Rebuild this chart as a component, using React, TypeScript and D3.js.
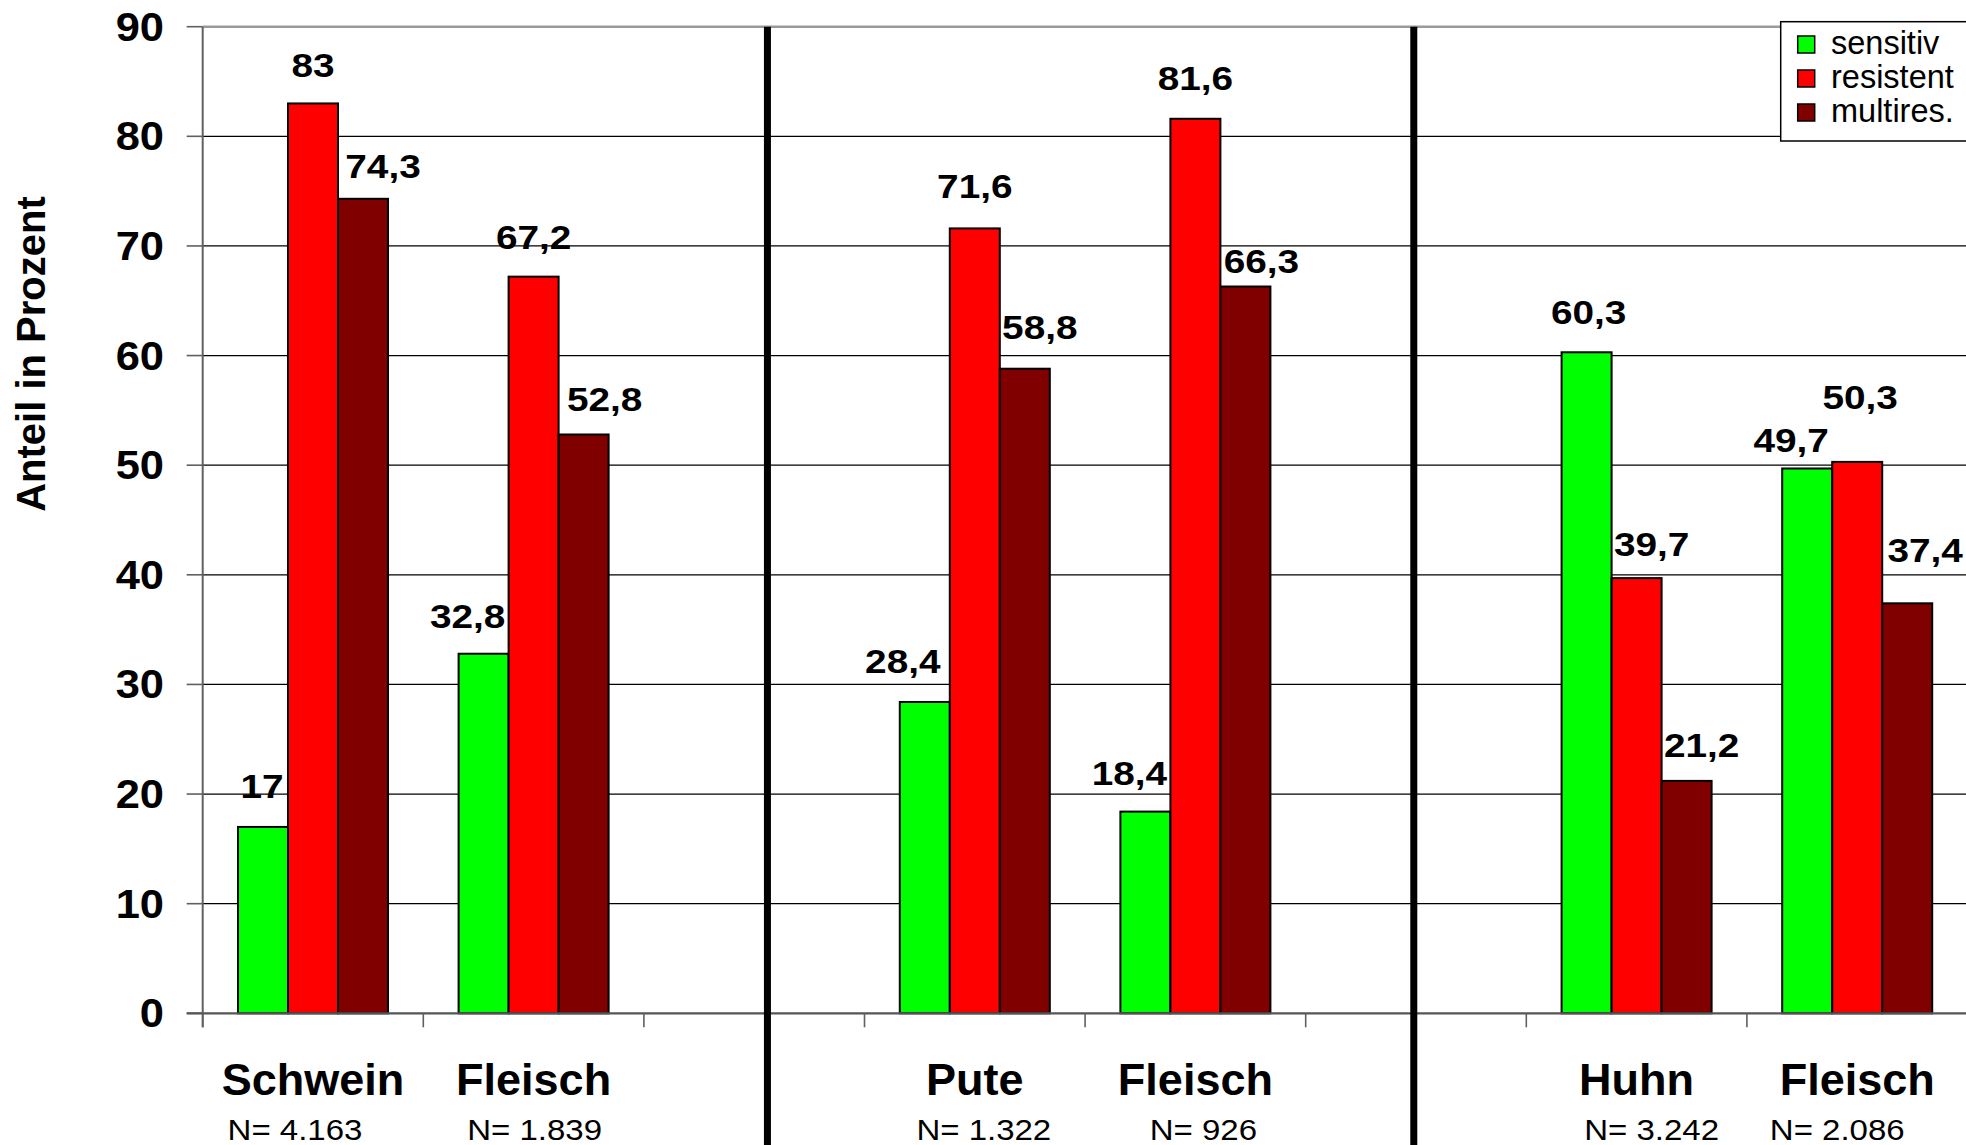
import React from "react";
import * as d3 from "d3";

// Category slots along the x axis (empty slots separate the three animal groups)
const xCategories = ["Schwein", "Fleisch", "", "Pute", "Fleisch", "", "Huhn", "Fleisch", ""];
const sampleSizes = ["N= 4.163", "N= 1.839", "", "N= 1.322", "N= 926", "", "N= 3.242", "N= 2.086", ""];

const seriesNames = ["sensitiv", "resistent", "multires."];
const sensitiv = [17, 32.8, null, 28.4, 18.4, null, 60.3, 49.7, null];
const resistent = [83, 67.2, null, 71.6, 81.6, null, 39.7, 50.3, null];
const multires = [74.3, 52.8, null, 58.8, 66.3, null, 21.2, 37.4, null];
const seriesValues = [sensitiv, resistent, multires];

const yTicks = [0, 10, 20, 30, 40, 50, 60, 70, 80, 90];

// Styling
const W = 1966;
const H = 1145;
const colors = ["#00ff00", "#ff0000", "#800000"];
const plotLeft = 202.7;
const plotTop = 26.7;
const plotBottom = 1013.3;
const slotStep = 220.6;
const FONT = "Liberation Sans, Arial, Helvetica, sans-serif";

// Hand-placed value label offsets: [dx from bar centre, label centre relative to bar top]
const labelNudges = [
  [[-1, -41], [-16, -38], null, [-22, -41], [-16, -39], null, [2, -40], [-16, -28], null],
  [[0, -38], [0, -40], null, [0, -42], [0, -41], null, [15, -34], [3, -65], null],
  [[20, -33], [21, -35], null, [15, -42], [16, -26], null, [15, -36], [18, -53], null],
];
const sampleNudges = [-18, 1, 0, 9, 8, 0, 15, -20, 0];
// Group separators: slot index and fraction of the slot
const separators = [
  [2, 0.56],
  [5, 0.49],
];

const fmt = (v: number) => String(v).replace(".", ",");

export default function App() {
  const slotIdx = xCategories.map((_, i) => i);
  const x = d3
    .scaleBand<number>()
    .domain(slotIdx)
    .range([plotLeft, plotLeft + slotStep * xCategories.length])
    .paddingInner(0.32)
    .paddingOuter(0.16);
  const xInner = d3
    .scaleBand<number>()
    .domain([0, 1, 2])
    .range([0, x.bandwidth()])
    .padding(0);
  const y = d3.scaleLinear().domain([0, 90]).range([plotBottom, plotTop]);
  const step = x.step();
  const slotStart = (i: number) => plotLeft + i * step;

  const legendX = 1780.7;
  const legendY = 21.7;

  return (
    <svg
      width={W}
      height={H}
      viewBox={`0 0 ${W} ${H}`}
      style={{ position: "absolute", left: 0, top: 0, background: "#fff" }}
    >
      <rect x={0} y={0} width={W} height={H} fill="#fff" />

      {/* horizontal gridlines */}
      {yTicks.filter((t) => t > 0).map((t) => (
        <line
          key={"g" + t}
          x1={plotLeft}
          x2={W}
          y1={y(t)}
          y2={y(t)}
          stroke={t === 90 ? "#9a9a9a" : "#000"}
          strokeWidth={t === 90 ? 2.6 : 1.2}
        />
      ))}

      {/* y axis with tick stubs */}
      <line x1={plotLeft} x2={plotLeft} y1={plotTop} y2={plotBottom + 14} stroke="#606060" strokeWidth={2} />
      {yTicks.map((t) => (
        <g key={"yt" + t}>
          <line x1={plotLeft - 16} x2={plotLeft} y1={y(t)} y2={y(t)} stroke="#606060" strokeWidth={1.6} />
          <g transform={`translate(164, ${y(t) + 14}) scale(1.06, 1)`}>
            <text
              x={0}
              y={0}
              textAnchor="end"
              fontFamily={FONT}
              fontWeight="bold"
              fontSize={41}
              fill="#000"
            >
              {t}
            </text>
          </g>
        </g>
      ))}

      {/* bars */}
      {seriesValues.map((vals, s) =>
        vals.map((v, i) =>
          v == null ? null : (
            <rect
              key={`b${s}-${i}`}
              x={(x(i) as number) + (xInner(s) as number)}
              y={y(v)}
              width={xInner.bandwidth()}
              height={plotBottom - y(v)}
              fill={colors[s]}
              stroke="#000"
              strokeWidth={2}
            />
          )
        )
      )}

      {/* x axis */}
      <line x1={plotLeft - 16} x2={W} y1={plotBottom} y2={plotBottom} stroke="#555" strokeWidth={2.2} />
      {d3.range(xCategories.length + 1).map((i) => (
        <line
          key={"xt" + i}
          x1={slotStart(i)}
          x2={slotStart(i)}
          y1={plotBottom}
          y2={plotBottom + 14}
          stroke="#606060"
          strokeWidth={1.6}
        />
      ))}

      {/* group separators */}
      {separators.map(([i, f], k) => (
        <line
          key={"sep" + k}
          x1={slotStart(i) + f * step}
          x2={slotStart(i) + f * step}
          y1={plotTop}
          y2={H}
          stroke="#000"
          strokeWidth={7}
        />
      ))}

      {/* value labels */}
      {seriesValues.map((vals, s) =>
        vals.map((v, i) => {
          if (v == null) return null;
          const nudge = labelNudges[s][i] || [0, -40];
          const cx = (x(i) as number) + (xInner(s) as number) + xInner.bandwidth() / 2 + nudge[0];
          const cy = y(v) + nudge[1];
          return (
            <g key={`l${s}-${i}`} transform={`translate(${cx}, ${cy + 12}) scale(1.14, 1)`}>
              <text
                x={0}
                y={0}
                textAnchor="middle"
                fontFamily={FONT}
                fontWeight="bold"
                fontSize={34}
                fill="#000"
              >
                {fmt(v)}
              </text>
            </g>
          );
        })
      )}

      {/* category labels */}
      {xCategories.map((c, i) =>
        c === "" ? null : (
          <g key={"c" + i}>
            <text
              x={(x(i) as number) + x.bandwidth() / 2}
              y={1095}
              textAnchor="middle"
              fontFamily={FONT}
              fontWeight="bold"
              fontSize={45}
              fill="#000"
            >
              {c}
            </text>
            <g
              transform={`translate(${(x(i) as number) + x.bandwidth() / 2 + sampleNudges[i]}, 1139.5) scale(1.1, 1)`}
            >
              <text x={0} y={0} textAnchor="middle" fontFamily={FONT} fontSize={30} fill="#000">
                {sampleSizes[i]}
              </text>
            </g>
          </g>
        )
      )}

      {/* y axis title */}
      <text
        transform={`translate(45, 354) rotate(-90)`}
        textAnchor="middle"
        fontFamily={FONT}
        fontWeight="bold"
        fontSize={40}
        fill="#000"
      >
        Anteil in Prozent
      </text>

      {/* legend */}
      <g>
        <rect x={legendX} y={legendY} width={190} height={119.3} fill="#fff" stroke="#000" strokeWidth={1.5} />
        {seriesNames.map((n, s) => (
          <g key={"lg" + s}>
            <rect x={1797.7} y={36 + s * 34} width={17} height={17} fill={colors[s]} stroke="#000" strokeWidth={1.5} />
            <text x={1831} y={53.5 + s * 34} fontFamily={FONT} fontSize={32.5} fill="#000">
              {n}
            </text>
          </g>
        ))}
      </g>
    </svg>
  );
}
